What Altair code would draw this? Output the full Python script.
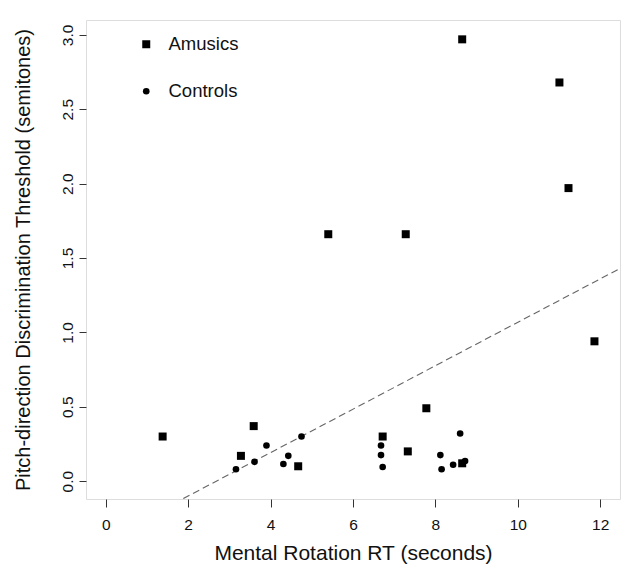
import altair as alt
import pandas as pd

# ---- data ----
amusics_rt = [1.38, 3.28, 3.59, 4.67, 5.40, 6.72, 7.28, 7.33, 7.78, 8.65, 8.65, 11.01, 11.23, 11.86]
amusics_thr = [0.30, 0.17, 0.37, 0.10, 1.66, 0.30, 1.66, 0.20, 0.49, 0.12, 2.97, 2.68, 1.97, 0.94]

controls_rt = [3.16, 3.61, 3.90, 4.31, 4.43, 4.75, 6.68, 6.68, 6.72, 8.12, 8.15, 8.43, 8.60, 8.72]
controls_thr = [0.08, 0.13, 0.24, 0.115, 0.17, 0.30, 0.24, 0.175, 0.095, 0.175, 0.08, 0.11, 0.32, 0.135]

groups = ["Amusics", "Controls"]
fit_intercept = -0.392
fit_slope = 0.146

x_domain = [-0.48, 12.48]
y_domain = [-0.12, 3.10]
x_ticks = [0, 2, 4, 6, 8, 10, 12]
y_ticks = [0.0, 0.5, 1.0, 1.5, 2.0, 2.5, 3.0]

pts = pd.DataFrame({
    "rt": amusics_rt + controls_rt,
    "thr": amusics_thr + controls_thr,
    "group": [groups[0]] * len(amusics_rt) + [groups[1]] * len(controls_rt),
})
fit = pd.DataFrame({"rt": x_domain})
fit["thr"] = fit_intercept + fit_slope * fit["rt"]

FONT = "Liberation Sans"

xscale = alt.Scale(domain=x_domain, nice=False, zero=False)
yscale = alt.Scale(domain=y_domain, nice=False, zero=False)

xaxis = alt.Axis(values=x_ticks, title="Mental Rotation RT (seconds)", grid=False,
                 domain=False, tickSize=8, tickColor="#333", labelPadding=10,
                 labelFontSize=15.5, titleFontSize=21, titleFontWeight="normal",
                 labelFont=FONT, titleFont=FONT, labelColor="#111", titleColor="#111",
                 titlePadding=10)
yaxis = alt.Axis(values=y_ticks, format=".1f", title="Pitch-direction Discrimination Threshold (semitones)",
                 grid=False, domain=False, tickSize=7, tickColor="#333", labelAngle=-90,
                 labelAlign="center", labelBaseline="bottom", labelPadding=4,
                 labelFontSize=15.5, titleFontSize=20, titleFontWeight="normal",
                 labelFont=FONT, titleFont=FONT, labelColor="#111", titleColor="#111",
                 titlePadding=27)

leg = alt.Legend(title=None, orient="none", legendX=51, legendY=15,
                 padding=0, rowPadding=28, labelOffset=13,
                 labelFontSize=18.5, labelFont=FONT, labelColor="#111",
                 symbolFillColor="black", symbolStrokeColor="black")

points = alt.Chart(pts).mark_point(filled=True, opacity=1, color="black").encode(
    x=alt.X("rt:Q", scale=xscale, axis=xaxis),
    y=alt.Y("thr:Q", scale=yscale, axis=yaxis),
    shape=alt.Shape("group:N", scale=alt.Scale(domain=groups, range=["square", "circle"]), legend=leg),
    size=alt.Size("group:N", scale=alt.Scale(domain=groups, range=[64, 44]), legend=leg),
)

line = alt.Chart(fit).mark_line(clip=True, color="#666", strokeDash=[7, 4], strokeWidth=1.1).encode(
    x=alt.X("rt:Q", scale=xscale),
    y=alt.Y("thr:Q", scale=yscale),
)

chart = alt.layer(line, points).properties(
    width=534, height=479,
    padding={"left": 86, "top": 20, "right": 8, "bottom": 69},
    autosize=alt.AutoSizeParams(type="none"),
).configure_view(stroke="#444", strokeWidth=1.2).configure(background="white")

chart.save("out.html", embed_options={"renderer": "svg", "actions": False})
